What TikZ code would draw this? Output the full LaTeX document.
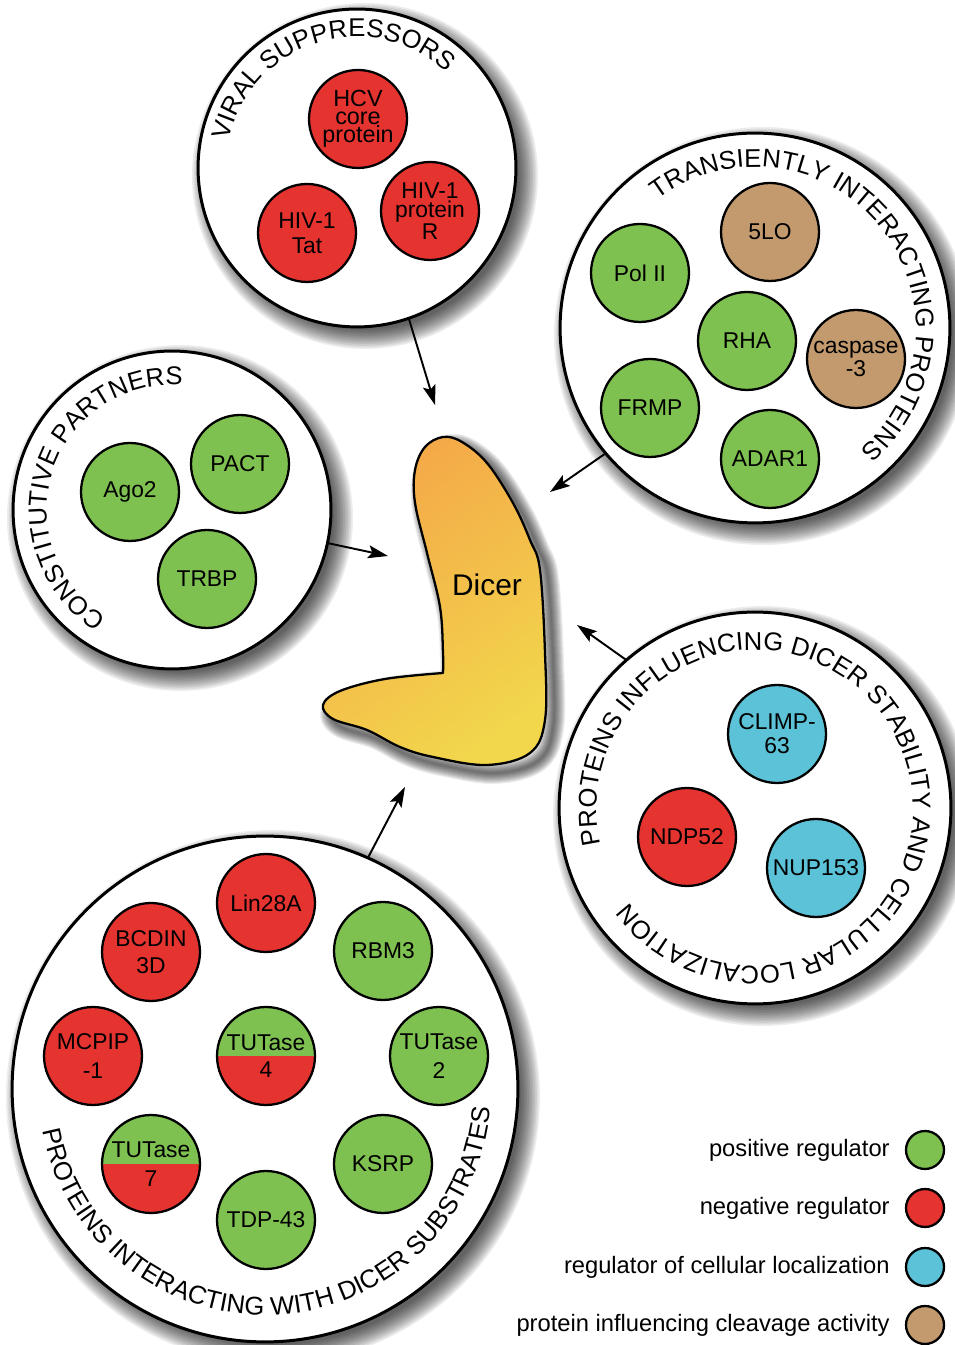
\documentclass[tikz,border=0pt]{standalone}
\usepackage{fontspec}
\setmainfont{Liberation Sans}
\usetikzlibrary{decorations.text, arrows.meta}
\definecolor{posg}{RGB}{126,193,80}
\definecolor{negr}{RGB}{229,51,48}
\definecolor{locb}{RGB}{92,194,216}
\definecolor{clvt}{RGB}{194,154,110}
\definecolor{dorange}{RGB}{244,167,72}
\definecolor{dyellow}{RGB}{242,214,76}
\newcommand\arcfont{\fontsize{14.6}{16}\selectfont}
\newcommand\softshadow[3]{%
  \foreach \k in {0,...,12}{%
    \fill[black, opacity=0.07] ({#1+8},{#2-8}) circle[radius={#3+14-1.6*\k}];
  }}
\begin{document}
\begin{tikzpicture}[x=0.02cm, y=0.02cm,
  grp/.style={circle, draw, line width=1.7pt, fill=white, inner sep=0, outer sep=0, minimum size=#1*0.04cm},
  prot/.style={circle, draw, line width=1.3pt, inner sep=0, outer sep=0, minimum size=1.96cm, align=center, font=\fontsize{13}{15.5}\selectfont},
  posreg/.style={prot, fill=posg},
  negreg/.style={prot, fill=negr},
  locreg/.style={prot, fill=locb},
  clvreg/.style={prot, fill=clvt},
  halfhalf/.style={prot, path picture={
     \fill[posg] (path picture bounding box.south west) rectangle (path picture bounding box.north east);
     \fill[negr] (path picture bounding box.south west) rectangle (path picture bounding box.east);}},
  link/.style={line width=1.1pt, -{Stealth[length=0.4cm, width=0.26cm, inset=0.08cm]}},
  legdot/.style={circle, draw, line width=1.3pt, inner sep=0, minimum size=0.76cm},
  keytext/.style={anchor=east, inner sep=0, font=\fontsize{13.5}{16}\selectfont},
  arctext/.style={decorate, decoration={text along path, text align=center, text={|\arcfont|#1}}},
]
\useasboundingbox (0,0) rectangle (954,1345);

% ---------- shadows ----------
\softshadow{357}{1177}{159}
\softshadow{755}{1017}{195}
\softshadow{172}{835}{159}
\softshadow{755}{537}{196}
\softshadow{265}{256}{253}
\begin{scope}[shift={(8,-8)}]
\foreach \k in {0,...,10}{
  \draw[black, opacity=0.07, line width={(22-2*\k)*0.02cm}, line join=round]
    plot[smooth, tension=0.6] coordinates {(443,672) (385,666) (340,654) (323,640) (333,626) (367,615) (400,598) (433,588) (487,580) (530,592) (545,625) (545,692) (540,775) (530,805) (513,842) (487,882) (462,903) (443,908) (425,898) (415,875) (415,842) (427,792) (440,738) (443,692) (443,672)} -- cycle;
}
\end{scope}

% ---------- group circles ----------
\node[grp=159] (vir) at (357,1177) {};
\node[grp=195] (tra) at (755,1017) {};
\node[grp=159] (con) at (172,835) {};
\node[grp=196] (sta) at (755,537) {};
\node[grp=253] (sub) at (265,256) {};

% ---------- viral suppressors ----------
\node[negreg, font=\fontsize{13.3}{10.2}\selectfont] (hcv) at (358,1226) {HCV\\core\\protein};
\node[negreg, font=\fontsize{13}{14.2}\selectfont] (tat) at (307,1112) {HIV-1\\Tat};
\node[negreg, font=\fontsize{13}{10.8}\selectfont] (vpr) at (430,1134) {HIV-1\\protein\\R};

% ---------- transiently interacting ----------
\node[clvreg] (lo5) at (770,1113) {5LO};
\node[posreg] (pol) at (640,1072) {Pol II};
\node[posreg] (rha) at (747,1004) {RHA};
\node[clvreg, font=\fontsize{13}{13}\selectfont] (cas) at (856,986) {caspase\\-3};
\node[posreg] (frm) at (650,937) {FRMP};
\node[posreg] (ada) at (770,886) {ADAR1};

% ---------- constitutive partners ----------
\node[posreg] (ago) at (130,853) {Ago2};
\node[posreg] (pac) at (240,881) {PACT};
\node[posreg] (trb) at (207,766) {TRBP};

% ---------- stability / localization ----------
\node[locreg, font=\fontsize{13}{13.6}\selectfont] (cli) at (777,611) {CLIMP-\\63};
\node[negreg] (ndp) at (687,508) {NDP52};
\node[locreg] (nup) at (816,477) {NUP153};

% ---------- dicer substrates ----------
\node[negreg] (lin) at (266,442) {Lin28A};
\node[negreg] (bcd) at (151,393) {BCDIN\\3D};
\node[posreg] (rbm) at (383,394) {RBM3};
\node[negreg, font=\fontsize{13}{16.4}\selectfont] (mcp) at (93,289) {MCPIP\\-1};
\node[halfhalf] (tu4) at (266,289) {TUTase\\4};
\node[posreg, font=\fontsize{13}{16.4}\selectfont] (tu2) at (439,289) {TUTase\\2};
\node[halfhalf, font=\fontsize{13}{16.4}\selectfont] (tu7) at (151,181) {TUTase\\7};
\node[posreg] (ksr) at (383,181) {KSRP};
\node[posreg] (tdp) at (266,125) {TDP-43};

% ---------- curved titles ----------
\path[arctext={VIRAL SUPPRESSORS}] (357,1177) ++(227.5:131) arc[start angle=227.5, end angle=-12.5, radius=131];
\path[arctext={TRANSIENTLY INTERACTING PROTEINS}] (755,1017) ++(159:161) arc[start angle=159, end angle=-81, radius=161];
\path[arctext={CONSTITUTIVE PARTNERS}] (172,835) ++(282:125) arc[start angle=282, end angle=42, radius=125];
\path[arctext={PROTEINS INFLUENCING DICER STABILITY AND CELLULAR LOCALIZATION}] (755,537) ++(205:158) arc[start angle=205, end angle=-155, radius=158];
\path[arctext={PROTEINS INTERACTING WITH DICER SUBSTRATES}] (265,256) ++(153:226) arc[start angle=153, end angle=393, radius=226];

% ---------- Dicer ----------
\path[draw, line width=1.3pt, line join=round, top color=dorange, middle color=dorange, bottom color=dyellow, shading angle=35]
  plot[smooth, tension=0.6] coordinates {(443,672) (385,666) (340,654) (323,640) (333,626) (367,615) (400,598) (433,588) (487,580) (530,592) (545,625) (545,692) (540,775) (530,805) (513,842) (487,882) (462,903) (443,908) (425,898) (415,875) (415,842) (427,792) (440,738) (443,692) (443,672)} -- cycle;
\node[font=\fontsize{17}{20}\selectfont] (dicer) at (487,760) {Dicer};

% ---------- arrows ----------
\coordinate (tv) at (435,940);
\coordinate (tt) at (550,853);
\coordinate (tc) at (388,789);
\coordinate (ts) at (577,720);
\coordinate (tb) at (405,558);
\draw[link] (vir.-71.3) -- (tv);
\draw[link] (tra.220.3) -- (tt);
\draw[link] (con.-12.6) -- (tc);
\draw[link] (sta.131.3) -- (ts);
\draw[link] (sub.66.3) -- (tb);

% ---------- legend ----------
\node[legdot, fill=posg] (k1) at (925,195) {};
\node[legdot, fill=negr] (k2) at (925,137) {};
\node[legdot, fill=locb] (k3) at (925,78) {};
\node[legdot, fill=clvt] (k4) at (925,20) {};
\node[keytext] (l1) at (890,195) {positive regulator};
\node[keytext] (l2) at (890,137) {negative regulator};
\node[keytext] (l3) at (890,78) {regulator of cellular localization};
\node[keytext] (l4) at (890,20) {protein influencing cleavage activity};
\end{tikzpicture}
\end{document}
